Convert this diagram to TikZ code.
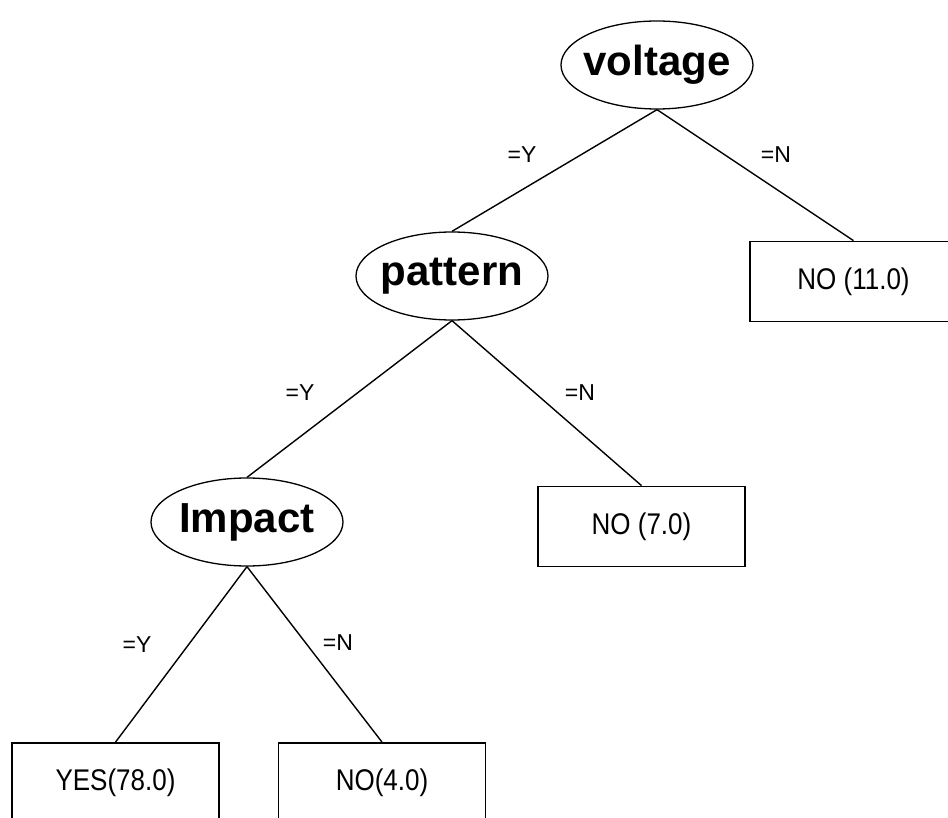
\documentclass[tikz,border=0pt]{standalone}
\usepackage{fontspec}
\setmainfont{Liberation Sans}
\usetikzlibrary{shapes.geometric}
\newcommand\leaftxt[1]{\scalebox{1}[1.15]{#1}}
\begin{document}
\begin{tikzpicture}[x=1pt,y=-1pt,
  attr/.style={draw, ellipse, line width=1.3pt, minimum width=192pt, minimum height=88pt, inner xsep=-14pt, inner ysep=-8pt, font=\fontsize{42}{46}\selectfont\bfseries},
  leaf/.style={draw, rectangle, line width=1.8pt, minimum width=207pt, minimum height=80pt, inner sep=0pt, font=\fontsize{26}{29}\selectfont},
  elab/.style={font=\fontsize{23}{26}\selectfont, inner sep=0pt},
  branch/.style={line width=1.4pt}]
\useasboundingbox (0,0) rectangle (948,818);
\node[attr] (v) at (657,65) {voltage};
\node[attr] (p) at (452,276) {pattern};
\node[attr] (i) at (247,522) {Impact};
\node[leaf] (n11) at (853.5,281.5) {\leaftxt{NO (11.0)}};
\node[leaf] (n7) at (641.5,526.5) {\leaftxt{NO (7.0)}};
\node[leaf] (y78) at (115.5,783) {\leaftxt{YES(78.0)}};
\node[leaf] (n4) at (382,783) {\leaftxt{NO(4.0)}};
\draw[branch] (v.south) -- (p.north);
\draw[branch] (v.south) -- (n11.north);
\draw[branch] (p.south) -- (i.north);
\draw[branch] (p.south) -- (n7.north);
\draw[branch] (i.south) -- (y78.north);
\draw[branch] (i.south) -- (n4.north);
\node[elab] (l1) at (522,155) {=Y};
\node[elab] (l2) at (776,155) {=N};
\node[elab] (l3) at (300,393) {=Y};
\node[elab] (l4) at (580,393) {=N};
\node[elab] (l5) at (137,645) {=Y};
\node[elab] (l6) at (338,643) {=N};
\end{tikzpicture}
\end{document}
